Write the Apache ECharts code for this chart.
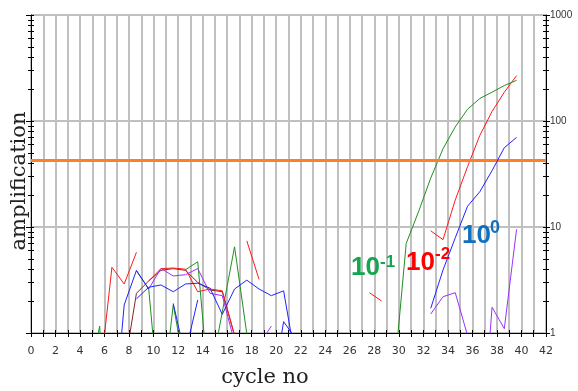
<!DOCTYPE html>
<html><head><meta charset="utf-8">
<script src="https://cdn.jsdelivr.net/npm/echarts@6/dist/echarts.min.js"></script>
<style>html,body{margin:0;padding:0;background:#fff}#c{width:578px;height:391px}</style>
</head><body><div id="c"></div>
<script>
// ---- data (cycle number of first reading + amplification readings) ----
const CYCLE_SHIFT = -0.4;          // readings are drawn slightly before their cycle number
const THRESHOLD = 43;

const yTickValues = [1, 10, 100, 1000];
const minorTickValues = [2,3,4,5,6,7,8,9,20,30,40,50,60,70,80,90,200,300,400,500,600,700,800,900];

// green traces
const greenBlipStart = 5,  greenBlip = [0.3, 1.16, 0.01];
const greenCStart = 9,     greenC = [3.85, 2.6, 0.14];
const greenDStart = 11,    greenD = [0.18, 1.84, 0.43];
const greenEStart = 13,    greenE = [3.95, 4.7, 0.22];
const greenFStart = 15,    greenF = [0.38, 1.58, 6.5, 0.98];
const greenMainStart = 30, greenMain = [0.38, 7.0, 13.9, 29, 54.7, 88, 129, 163, 187, 216, 242];
// brown trace
const brownStart = 8,      brown = [0.46, 2.37, 3.1, 3.9, 4.05, 3.9, 3.0, 2.55, 2.45, 0.95];
// red traces
const redAStart = 6,       redA = [0.37, 4.17, 2.9, 5.77];
const redBStart = 10,      redB = [3.1, 4.05, 4.1, 4.0, 2.45, 2.6, 2.5, 0.95];
const redCStart = 18,      redC = [7.4, 3.2];
const redDStart = 28,      redD = [2.4, 2.0];
const redMainStart = 33,   redMain = [9.2, 7.6, 18, 37, 73, 123, 187, 268];
// purple traces
const purpleAStart = 10,   purpleA = [2.6, 4.07, 3.45, 3.55, 4.05, 2.37, 2.25, 0.82];
const purpleBStart = 19,   purpleB = [0.78, 1.16];
const purpleCStart = 33,   purpleC = [1.51, 2.2, 2.4, 0.95, 0.05, 1.75, 1.1, 9.5];
// blue traces
const blueAStart = 7,      blueA = [0.09, 1.84, 3.9, 2.6];
const blueBStart = 9,      blueB = [2.1, 2.7, 2.84, 2.45, 2.9, 2.95, 2.65, 1.5, 2.6, 3.15, 2.6, 2.25, 2.5, 0.54];
const blueCStart = 12,     blueC = [1.9, 0.59];
const blueDStart = 13,     blueD = [0.66, 2.05];
const blueEStart = 20,     blueE = [0.25, 1.28, 0.88];
const blueMainStart = 33,  blueMain = [1.71, 3.93, 7.9, 15.7, 21.5, 34, 56, 70];

// ---- styling ----
const C_GREEN = '#1f8f1f', C_RED = '#ff1a1a', C_BLUE = '#2222ff', C_PURPLE = '#9b30ff', C_BROWN = '#8b2323';
const GRID_C = '#c0c0c0';

function pts(start, values) { return values.map((v, i) => [start + i + CYCLE_SHIFT, v]); }
function line(color, start, values, z, extra) {
  return Object.assign({
    type: 'line', data: pts(start, values), xAxisIndex: 0, yAxisIndex: 0,
    showSymbol: false, symbol: 'none', silent: true, clip: true, z: z,
    lineStyle: { color: color, width: 1 }, itemStyle: { color: color }, animation: false
  }, extra || {});
}

const series = [
  line(C_GREEN, greenBlipStart, greenBlip, 2),
  line(C_GREEN, greenCStart, greenC, 2),
  line(C_GREEN, greenDStart, greenD, 2),
  line(C_GREEN, greenEStart, greenE, 2),
  line(C_GREEN, greenFStart, greenF, 2),
  line(C_GREEN, greenMainStart, greenMain, 2, {
    markLine: { silent: true, symbol: ['none', 'none'], label: { show: false },
      lineStyle: { color: '#ff7f27', width: 3, type: 'solid' }, data: [{ yAxis: THRESHOLD }], animation: false }
  }),
  line(C_BROWN, brownStart, brown, 3),
  line(C_RED, redAStart, redA, 4),
  line(C_RED, redBStart, redB, 4),
  line(C_RED, redCStart, redC, 4),
  line(C_RED, redDStart, redD, 4),
  line(C_RED, redMainStart, redMain, 4),
  line(C_PURPLE, purpleAStart, purpleA, 5),
  line(C_PURPLE, purpleBStart, purpleB, 5),
  line(C_PURPLE, purpleCStart, purpleC, 5),
  line(C_BLUE, blueAStart, blueA, 6),
  line(C_BLUE, blueBStart, blueB, 6),
  line(C_BLUE, blueCStart, blueC, 6),
  line(C_BLUE, blueDStart, blueD, 6),
  line(C_BLUE, blueEStart, blueE, 6),
  line(C_BLUE, blueMainStart, blueMain, 6)
];

const baseX = { type: 'value', min: 0, max: 42, interval: 1, gridIndex: 0 };
const baseY = { type: 'log', logBase: 10, min: 1, max: 1000, gridIndex: 0 };
const noLabel = { show: false }, noSplit = { show: false }, noLine = { show: false };

const option = {
  animation: false,
  backgroundColor: '#fff',
  grid: { left: 31, right: 32, top: 15, bottom: 58, containLabel: false },
  xAxis: [
    Object.assign({}, baseX, {
      position: 'bottom',
      axisLine: { show: true, onZero: false, lineStyle: { color: '#000', width: 1 } },
      axisTick: { show: true, inside: false, length: 4, lineStyle: { color: '#000' } },
      axisLabel: { show: true, margin: 13, color: '#333', fontSize: 11, fontFamily: 'DejaVu Sans',
        formatter: v => (v % 2 === 0 ? String(v) : '') },
      splitLine: { show: true, lineStyle: { color: GRID_C, width: 2 } }
    }),
    Object.assign({}, baseX, {
      position: 'bottom', axisLine: noLine, axisLabel: noLabel, splitLine: noSplit,
      axisTick: { show: true, inside: true, length: 3, lineStyle: { color: '#000' } }
    })
  ],
  yAxis: [
    Object.assign({}, baseY, {
      position: 'left',
      axisLine: { show: true, onZero: false, lineStyle: { color: '#000', width: 1 } },
      axisTick: { show: true, inside: false, length: 5, lineStyle: { color: '#000' } },
      axisLabel: noLabel,
      splitLine: { show: true, lineStyle: { color: GRID_C, width: 2 } }
    }),
    Object.assign({}, baseY, {
      position: 'left', axisLine: noLine, axisLabel: noLabel, splitLine: noSplit,
      axisTick: { show: true, inside: true, length: 3, customValues: yTickValues.concat(minorTickValues), lineStyle: { color: '#000' } }
    }),
    Object.assign({}, baseY, {
      position: 'left', axisLine: noLine, axisLabel: noLabel, splitLine: noSplit,
      axisTick: { show: true, inside: false, length: 3, customValues: minorTickValues, lineStyle: { color: '#000' } }
    }),
    Object.assign({}, baseY, {
      position: 'right',
      axisLine: { show: true, onZero: false, lineStyle: { color: '#000', width: 1 } },
      axisTick: { show: true, inside: false, length: 4, lineStyle: { color: '#000' } },
      axisLabel: { show: true, margin: 4, color: '#333', fontSize: 10, fontFamily: 'Liberation Sans',
        formatter: v => String(Math.round(v)) },
      splitLine: noSplit
    }),
    Object.assign({}, baseY, {
      position: 'right', axisLine: noLine, axisLabel: noLabel, splitLine: noSplit,
      axisTick: { show: true, inside: true, length: 3, customValues: yTickValues.concat(minorTickValues), lineStyle: { color: '#000' } }
    }),
    Object.assign({}, baseY, {
      position: 'right', axisLine: noLine, axisLabel: noLabel, splitLine: noSplit,
      axisTick: { show: true, inside: false, length: 3, customValues: minorTickValues, lineStyle: { color: '#000' } }
    })
  ],
  graphic: [
    { type: 'text', x: 20, y: 181, rotation: Math.PI / 2, silent: true,
      style: { text: 'amplification', fill: '#222', font: '21px "DejaVu Serif"', align: 'center', verticalAlign: 'middle' } },
    { type: 'text', x: 265, y: 378, silent: true,
      style: { text: 'cycle no', fill: '#222', font: '21px "DejaVu Serif"', align: 'center', verticalAlign: 'middle' } },
    // dilution labels
    { type: 'text', x: 351, y: 268, silent: true, z: 20,
      style: { text: '10', fill: '#14a64e', font: 'bold 26px "Liberation Sans"', align: 'left', verticalAlign: 'middle' } },
    { type: 'text', x: 380, y: 262, silent: true, z: 20,
      style: { text: '-1', fill: '#14a64e', font: 'bold 17px "Liberation Sans"', align: 'left', verticalAlign: 'middle' } },
    { type: 'text', x: 406, y: 263, silent: true, z: 20,
      style: { text: '10', fill: '#ff0000', font: 'bold 26px "Liberation Sans"', align: 'left', verticalAlign: 'middle' } },
    { type: 'text', x: 435, y: 254, silent: true, z: 20,
      style: { text: '-2', fill: '#ff0000', font: 'bold 17px "Liberation Sans"', align: 'left', verticalAlign: 'middle' } },
    { type: 'text', x: 462, y: 236, silent: true, z: 20,
      style: { text: '10', fill: '#1070c0', font: 'bold 26px "Liberation Sans"', align: 'left', verticalAlign: 'middle' } },
    { type: 'text', x: 490, y: 228, silent: true, z: 20,
      style: { text: '0', fill: '#1070c0', font: 'bold 18px "Liberation Sans"', align: 'left', verticalAlign: 'middle' } }
  ],
  series: series
};

const chart = echarts.init(document.getElementById('c'), null, { renderer: 'canvas' });
chart.setOption(option);
</script></body></html>
